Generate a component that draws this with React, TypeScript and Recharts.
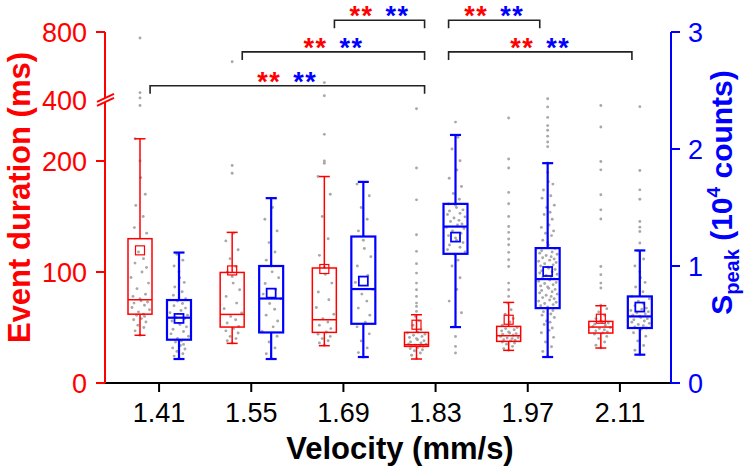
import React from 'react';
import { ComposedChart, Bar, XAxis, YAxis, ReferenceLine } from 'recharts';

const RED = '#ff0000';
const BLUE = '#0000ff';
const DOT = '#a8a8a8';
const FONT = '"Liberation Sans", Arial, Helvetica, sans-serif';

const velocities = ['1.41', '1.55', '1.69', '1.83', '1.97', '2.11'];

// Event duration (ms) box statistics
const durMin = [43, 35.7, 33.6, 21.6, 29.4, 31.5];
const durQ1 = [62, 50.4, 45.6, 33, 37.5, 45];
const durMedian = [75, 61.8, 57, 34.5, 42.6, 50.4];
const durQ3 = [130, 99.6, 103.6, 45.6, 51, 55.5];
const durMax = [220, 135.7, 186, 61.5, 72.6, 69.6];
const durMean = [119.5, 101.4, 102.7, 52.5, 57, 57.9];

// S_peak (10^4 counts) box statistics
const peakMin = [0.205, 0.205, 0.222, 0.478, 0.222, 0.242];
const peakQ1 = [0.37, 0.432, 0.506, 1.104, 0.64, 0.47];
const peakMedian = [0.558, 0.722, 0.803, 1.337, 0.888, 0.569];
const peakQ3 = [0.709, 1.0, 1.252, 1.531, 1.153, 0.74];
const peakMax = [1.115, 1.58, 1.719, 2.12, 1.879, 1.133];
const peakMean = [0.552, 0.768, 0.871, 1.247, 0.953, 0.649];

// raw event durations (ms)
const durDots141 = [43, 47, 50, 52, 55, 57, 58, 60, 61, 62, 64, 66, 68, 70, 72, 73, 74, 76, 78, 80, 85, 90, 95, 100, 104, 108, 112, 118, 135, 140, 150, 160, 170, 185, 200, 220, 250, 412, 443, 765];
const durDots155 = [36, 38, 40, 42, 45, 47, 49, 51, 54, 57, 60, 63, 67, 72, 78, 84, 90, 96, 100, 105, 112, 120, 128, 135, 189, 196, 625];
const durDots169 = [34, 36, 38, 40, 42, 44, 46, 49, 52, 55, 58, 62, 68, 75, 82, 90, 98, 104, 115, 130, 150, 170, 186, 198, 200, 224, 425, 502];
const durDots183 = [22, 25, 27, 29, 30, 31, 32, 33, 33, 34, 34, 35, 35, 36, 37, 38, 39, 40, 41, 42, 43, 44, 45, 46, 48, 52, 56, 60, 64.5, 69, 72, 78, 84, 90, 99, 107.5, 118.6, 133.6, 165, 193.7, 247];
const durDots197 = [29.4, 31, 33, 35, 36, 37, 38, 38.5, 39, 40, 40.5, 41, 42, 43, 44, 44.5, 45, 46, 47, 48, 49, 50, 52, 55, 58, 62, 66, 72, 78, 84, 90, 105, 111, 117.7, 124.6, 129.7, 135.7, 141, 150, 161.5, 171.7, 193.7, 201.8, 238.7];
const durDots211 = [31.5, 34, 37, 40, 42, 44, 45, 46, 47, 48, 49, 50, 51, 52, 53, 54, 55, 56, 58, 61, 64, 67, 70, 85.6, 90, 97.6, 105, 147.7, 156, 169.6, 192, 199.6, 230.6, 250];

// raw peak intensities (10^4 counts)
const peakDots141 = [0.21, 0.23, 0.25, 0.27, 0.29, 0.3, 0.32, 0.33, 0.35, 0.36, 0.38, 0.4, 0.42, 0.44, 0.46, 0.48, 0.5, 0.51, 0.53, 0.55, 0.56, 0.58, 0.6, 0.62, 0.64, 0.66, 0.68, 0.7, 0.72, 0.75, 0.78, 0.82, 0.86, 0.9, 0.95, 1.0, 1.05, 1.1];
const peakDots155 = [0.21, 0.25, 0.3, 0.35, 0.4, 0.44, 0.48, 0.53, 0.58, 0.63, 0.68, 0.72, 0.76, 0.8, 0.85, 0.9, 0.95, 1.0, 1.05, 1.12, 1.2, 1.3, 1.4, 1.5, 1.58];
const peakDots169 = [0.22, 0.26, 0.3, 0.36, 0.42, 0.48, 0.52, 0.58, 0.64, 0.7, 0.76, 0.8, 0.86, 0.92, 1.0, 1.08, 1.15, 1.22, 1.3, 1.4, 1.5, 1.6, 1.7];
const peakDots183 = [0.256, 0.313, 0.398, 0.48, 0.6, 0.7, 0.8, 0.9, 1.0, 1.05, 1.1, 1.12, 1.14, 1.16, 1.18, 1.2, 1.22, 1.24, 1.26, 1.28, 1.3, 1.32, 1.33, 1.35, 1.36, 1.38, 1.39, 1.41, 1.42, 1.44, 1.45, 1.47, 1.48, 1.5, 1.52, 1.53, 1.57, 1.62, 1.68, 1.75, 1.82, 1.9, 2.0, 2.1, 2.23];
const peakDots197 = [0.23, 0.27, 0.31, 0.35, 0.39, 0.43, 0.45, 0.47, 0.5, 0.52, 0.53, 0.56, 0.58, 0.59, 0.61, 0.62, 0.64, 0.65, 0.66, 0.67, 0.68, 0.69, 0.7, 0.71, 0.72, 0.73, 0.74, 0.75, 0.76, 0.77, 0.78, 0.79, 0.8, 0.81, 0.82, 0.83, 0.84, 0.85, 0.86, 0.87, 0.88, 0.89, 0.9, 0.91, 0.92, 0.93, 0.94, 0.95, 0.96, 0.97, 0.98, 0.99, 1.0, 1.01, 1.02, 1.03, 1.04, 1.05, 1.06, 1.07, 1.08, 1.09, 1.1, 1.11, 1.12, 1.13, 1.15, 1.18, 1.2, 1.22, 1.26, 1.28, 1.3, 1.33, 1.35, 1.4, 1.44, 1.46, 1.5, 1.52, 1.58, 1.6, 1.65, 1.7, 1.72, 1.8, 1.88, 2.02, 2.06, 2.11, 2.16, 2.2, 2.27, 2.36, 2.43];
const peakDots211 = [0.242, 0.28, 0.32, 0.36, 0.4, 0.43, 0.46, 0.47, 0.48, 0.49, 0.5, 0.51, 0.52, 0.53, 0.54, 0.55, 0.56, 0.57, 0.58, 0.59, 0.6, 0.61, 0.62, 0.63, 0.64, 0.66, 0.68, 0.7, 0.72, 0.74, 0.78, 0.82, 0.86, 0.9, 0.95, 1.0, 1.06, 1.13, 1.196, 1.295, 1.332, 1.38, 1.571, 1.651, 1.816, 2.362];

const durDots = [durDots141, durDots155, durDots169, durDots183, durDots197, durDots211];
const peakDots = [peakDots141, peakDots155, peakDots169, peakDots183, peakDots197, peakDots211];

// left axis tick labels (ms) and right axis ticks
const leftTickValues = [0, 100, 200, 400, 800];
const rightTickValues = [0, 1, 2, 3];

// significance brackets (level in right-axis units)
const brackets = [
  { from: '1.41', to: '1.83', level: 2.54 },
  { from: '1.55', to: '1.83', level: 2.83 },
  { from: '1.69', to: '1.83', level: 3.1 },
  { from: '1.83', to: '1.97', level: 3.1 },
  { from: '1.83', to: '2.11', level: 2.83 },
];

// broken left axis: 0..255 linear, then 400..800 compressed
const LOWER_TOP = 255;
const UPPER_START = 400;
const UPPER_END = 800;
const DISPLAY_TOP = 316.2;
const toDisplay = (ms: number) =>
  ms < UPPER_START ? ms : LOWER_TOP + ((ms - UPPER_START) * (DISPLAY_TOP - LOWER_TOP)) / (UPPER_END - UPPER_START);

const rows = velocities.map((v, i) => ({
  v,
  red: [durMin[i], durMax[i]],
  blue: [peakMin[i], peakMax[i]],
  redStats: { min: durMin[i], q1: durQ1[i], median: durMedian[i], q3: durQ3[i], max: durMax[i], mean: durMean[i] },
  blueStats: { min: peakMin[i], q1: peakQ1[i], median: peakMedian[i], q3: peakQ3[i], max: peakMax[i], mean: peakMean[i] },
  redDots: durDots[i].map(toDisplay),
  blueDots: peakDots[i],
}));

const JITTER = [0, -0.7, 0.55, -0.3, 0.85, -0.9, 0.2, 0.65, -0.5, 0.35, -0.15, 0.95, -0.8, 0.45, -0.6, 0.75, 0.1];

const makeBoxShape = (statsKey: string, dotsKey: string, color: string, sw: number) => (props: any) => {
  const { x, y, width, height, payload } = props;
  const s = payload[statsKey];
  const dots: number[] = payload[dotsKey];
  const yOf = (val: number) => y + (height * (s.max - val)) / (s.max - s.min);
  const cx = x + width / 2;
  const half = width / 2;
  const cap = 5.5;
  const m = 4.5;
  return (
    <g>
      {dots.map((d, i) => {
        let spread = 0;
        if (d >= s.q1 && d <= s.q3) spread = half - 2;
        else if (d >= s.min && d <= s.max) spread = 7;
        return <circle key={i} cx={cx + JITTER[i % JITTER.length] * spread} cy={yOf(d)} r={1.45} fill={DOT} />;
      })}
      <line x1={cx} x2={cx} y1={yOf(s.max)} y2={yOf(s.q3)} stroke={color} strokeWidth={sw} />
      <line x1={cx} x2={cx} y1={yOf(s.q1)} y2={yOf(s.min)} stroke={color} strokeWidth={sw} />
      <line x1={cx - cap} x2={cx + cap} y1={yOf(s.max)} y2={yOf(s.max)} stroke={color} strokeWidth={sw} />
      <line x1={cx - cap} x2={cx + cap} y1={yOf(s.min)} y2={yOf(s.min)} stroke={color} strokeWidth={sw} />
      <rect x={x} y={yOf(s.q3)} width={width} height={yOf(s.q1) - yOf(s.q3)} fill="none" stroke={color} strokeWidth={sw} />
      <line x1={x} x2={x + width} y1={yOf(s.median)} y2={yOf(s.median)} stroke={color} strokeWidth={sw} />
      <rect x={cx - m} y={yOf(s.mean) - m} width={2 * m} height={2 * m} fill="none" stroke={color} strokeWidth={sw * 0.8} />
    </g>
  );
};

const redShape = makeBoxShape('redStats', 'redDots', RED, 1.5);
const blueShape = makeBoxShape('blueStats', 'blueDots', BLUE, 2.2);

const TICK = 9;
const LEFT_MARGIN = 9;

const renderLeftTick = (p: any) => {
  const { x, y, payload } = p;
  const ax = x + TICK + LEFT_MARGIN;
  const idx = leftTickValues.map(toDisplay).findIndex((d) => Math.abs(d - payload.value) < 0.01);
  const label = idx >= 0 ? String(leftTickValues[idx]) : '';
  const isBreak = leftTickValues[idx] === UPPER_START;
  return (
    <g>
      {isBreak ? (
        <g>
          <polygon points={`${ax - 8},${y + 2} ${ax + 9},${y - 6} ${ax + 9},${y - 2} ${ax - 8},${y + 6}`} fill="#fff" stroke="none" />
          <line x1={ax - 8} y1={y + 2} x2={ax + 9} y2={y - 6} stroke={RED} strokeWidth={2} />
          <line x1={ax - 8} y1={y + 6} x2={ax + 9} y2={y - 2} stroke={RED} strokeWidth={2} />
        </g>
      ) : (
        <line x1={ax - TICK} y1={y} x2={ax} y2={y} stroke={RED} strokeWidth={2} />
      )}
      <text x={x} y={y} dy="0.355em" textAnchor="end" fill={RED} fontSize={27} fontFamily={FONT}>
        {label}
      </text>
    </g>
  );
};

const bracketShape = (from: string, to: string) => (props: any) => {
  const { x1, y1, x2 } = props;
  const a = x1 + (from === '1.83' ? 13 : -9);
  const b = x2 + (to === '1.83' ? -11 : 12);
  const mid = (a + b) / 2;
  return (
    <g>
      <path d={`M${a},${y1 + 8} V${y1} H${b} V${y1 + 8}`} fill="none" stroke="#222" strokeWidth={1.6} />
      <text x={mid - 6} y={y1 + 5} textAnchor="end" fill={RED} fontSize={27} fontWeight="bold" letterSpacing={1.5} fontFamily={FONT}>**</text>
      <text x={mid + 6} y={y1 + 5} textAnchor="start" fill={BLUE} fontSize={27} fontWeight="bold" letterSpacing={1.5} fontFamily={FONT}>**</text>
    </g>
  );
};

const XTitle = (props: any) => {
  const vb = props.viewBox || { x: 105, y: 383, width: 566, height: 87 };
  return (
    <text x={vb.x + vb.width / 2 + 12} y={vb.y + 76} textAnchor="middle" fill="#000" fontSize={31} fontWeight="bold" fontFamily={FONT}>
      Velocity (mm/s)
    </text>
  );
};

const LeftTitle = (props: any) => {
  const vb = props.viewBox || { x: 0, y: 32, width: 105, height: 351 };
  const x = vb.x + 30;
  const y = vb.y + vb.height / 2 - 10;
  return (
    <text x={x} y={y} transform={`rotate(-90 ${x} ${y})`} textAnchor="middle" fill={RED} fontSize={31} fontWeight="bold" fontFamily={FONT}>
      Event duration (ms)
    </text>
  );
};

const RightTitle = (props: any) => {
  const vb = props.viewBox || { x: 671, y: 32, width: 80, height: 351 };
  const x = vb.x + 61;
  const y = vb.y + vb.height / 2 - 15;
  return (
    <text x={x} y={y} transform={`rotate(-90 ${x} ${y})`} textAnchor="middle" fill={BLUE} fontSize={30} fontWeight="bold" fontFamily={FONT}>
      S<tspan fontSize={20} dy={7}>peak</tspan>
      <tspan dy={-7}> (10</tspan>
      <tspan fontSize={19} dy={-12}>4</tspan>
      <tspan dy={12}> counts)</tspan>
    </text>
  );
};

export default function App() {
  return (
    <div style={{ position: 'absolute', left: 0, top: 0, width: 751, height: 470, background: '#fff' }}>
      <ComposedChart width={751} height={470} data={rows} margin={{ top: 32, right: 0, bottom: 0, left: 0 }} barSize={24} barGap={15}>
        <XAxis
          dataKey="v"
          type="category"
          height={87}
          padding={{ left: 8, right: 5 }}
          interval={0}
          tickSize={TICK}
          tickMargin={11}
          axisLine={{ stroke: '#000', strokeWidth: 2 }}
          tickLine={{ stroke: '#000', strokeWidth: 2 }}
          tick={{ fill: '#000', fontSize: 27, fontFamily: FONT }}
          label={{ content: XTitle }}
        />
        <YAxis
          yAxisId="left"
          orientation="left"
          type="number"
          width={105}
          domain={[0, DISPLAY_TOP]}
          ticks={leftTickValues.map(toDisplay)}
          interval={0}
          allowDataOverflow
          tickSize={TICK}
          tickMargin={LEFT_MARGIN}
          tickLine={false}
          axisLine={{ stroke: RED, strokeWidth: 2 }}
          tick={renderLeftTick}
          label={{ content: LeftTitle }}
        />
        <YAxis
          yAxisId="right"
          orientation="right"
          type="number"
          width={80}
          domain={[0, 3]}
          ticks={rightTickValues}
          interval={0}
          allowDataOverflow
          tickSize={TICK}
          tickMargin={8}
          axisLine={{ stroke: BLUE, strokeWidth: 2 }}
          tickLine={{ stroke: BLUE, strokeWidth: 2 }}
          tick={{ fill: BLUE, fontSize: 27, fontFamily: FONT, textAnchor: 'start' }}
          label={{ content: RightTitle }}
        />
        <Bar yAxisId="left" dataKey="red" shape={redShape} isAnimationActive={false} />
        <Bar yAxisId="right" dataKey="blue" shape={blueShape} isAnimationActive={false} />
        {brackets.map((b, i) => (
          <ReferenceLine
            key={i}
            yAxisId="right"
            ifOverflow="visible"
            segment={[
              { x: b.from, y: b.level },
              { x: b.to, y: b.level },
            ]}
            shape={bracketShape(b.from, b.to)}
          />
        ))}
      </ComposedChart>
    </div>
  );
}
